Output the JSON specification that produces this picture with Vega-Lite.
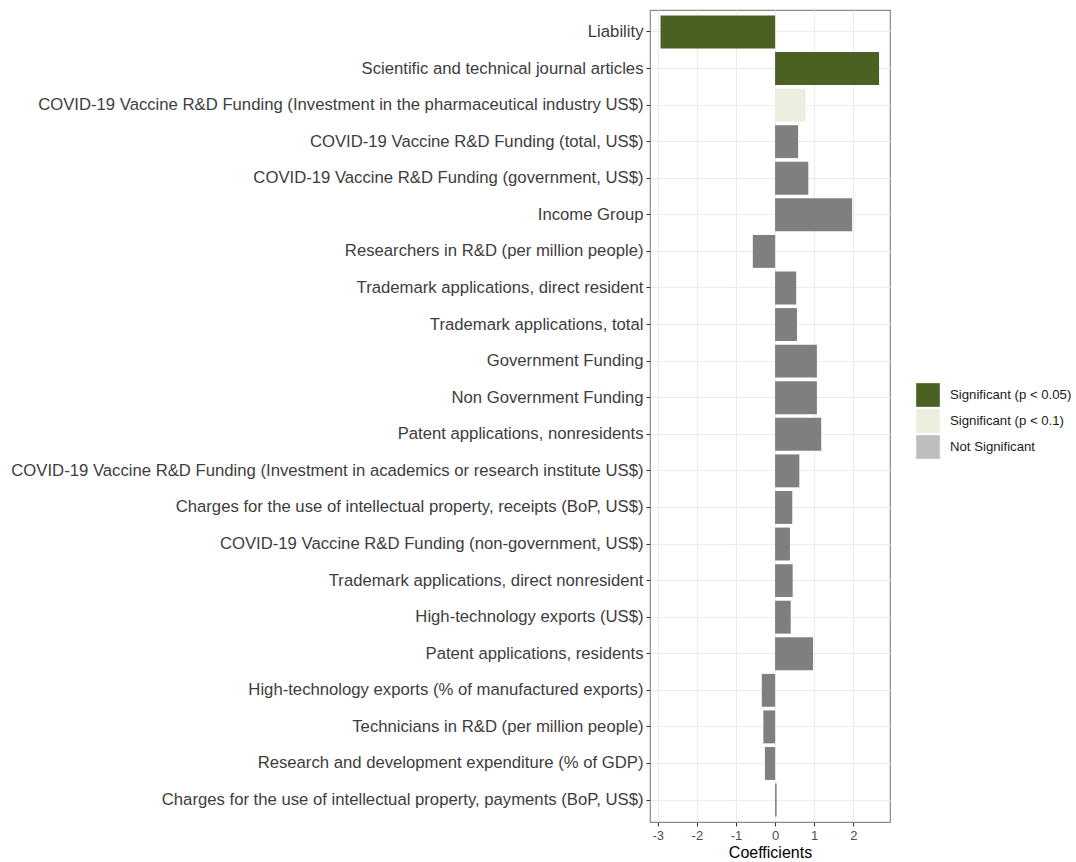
{
  "$schema": "https://vega.github.io/schema/vega-lite/v6.json",
  "width": 240,
  "height": 812,
  "autosize": {"type": "none"},
  "padding": {"left": 650, "top": 10, "right": 186, "bottom": 40},
  "background": "white",
  "config": {
    "font": "Liberation Sans",
    "view": {"stroke": "#8a8a8a", "strokeWidth": 1.2}
  },
  "data": {
    "values": [
      {"term": "Liability", "coef": -2.93, "sig": "Significant (p < 0.05)"},
      {"term": "Scientific and technical journal articles", "coef": 2.66, "sig": "Significant (p < 0.05)"},
      {"term": "COVID-19 Vaccine R&D Funding (Investment in the pharmaceutical industry US$)", "coef": 0.78, "sig": "Significant (p < 0.1)"},
      {"term": "COVID-19 Vaccine R&D Funding (total, US$)", "coef": 0.59, "sig": "Not Significant"},
      {"term": "COVID-19 Vaccine R&D Funding (government, US$)", "coef": 0.85, "sig": "Not Significant"},
      {"term": "Income Group", "coef": 1.97, "sig": "Not Significant"},
      {"term": "Researchers in R&D (per million people)", "coef": -0.57, "sig": "Not Significant"},
      {"term": "Trademark applications, direct resident", "coef": 0.54, "sig": "Not Significant"},
      {"term": "Trademark applications, total", "coef": 0.56, "sig": "Not Significant"},
      {"term": "Government Funding", "coef": 1.07, "sig": "Not Significant"},
      {"term": "Non Government Funding", "coef": 1.07, "sig": "Not Significant"},
      {"term": "Patent applications, nonresidents", "coef": 1.18, "sig": "Not Significant"},
      {"term": "COVID-19 Vaccine R&D Funding (Investment in academics or research institute US$)", "coef": 0.62, "sig": "Not Significant"},
      {"term": "Charges for the use of intellectual property, receipts (BoP, US$)", "coef": 0.44, "sig": "Not Significant"},
      {"term": "COVID-19 Vaccine R&D Funding (non-government, US$)", "coef": 0.38, "sig": "Not Significant"},
      {"term": "Trademark applications, direct nonresident", "coef": 0.45, "sig": "Not Significant"},
      {"term": "High-technology exports (US$)", "coef": 0.40, "sig": "Not Significant"},
      {"term": "Patent applications, residents", "coef": 0.97, "sig": "Not Significant"},
      {"term": "High-technology exports (% of manufactured exports)", "coef": -0.34, "sig": "Not Significant"},
      {"term": "Technicians in R&D (per million people)", "coef": -0.30, "sig": "Not Significant"},
      {"term": "Research and development expenditure (% of GDP)", "coef": -0.26, "sig": "Not Significant"},
      {"term": "Charges for the use of intellectual property, payments (BoP, US$)", "coef": 0.04, "sig": "Not Significant"}
    ]
  },
  "encoding": {
    "y": {
      "field": "term",
      "type": "nominal",
      "sort": null,
      "scale": {"paddingInner": 0.1, "paddingOuter": 0.15},
      "axis": {
        "title": null,
        "bandPosition": 0.5,
        "domain": false,
        "grid": true,
        "gridColor": "#ebebeb",
        "gridWidth": 1.1,
        "tickColor": "#333333",
        "tickSize": 4,
        "labelFontSize": 16.7,
        "labelColor": "#3d3d3d",
        "labelPadding": 3,
        "labelLimit": 700
      }
    }
  },
  "layer": [
    {
      "mark": {"type": "bar"},
      "encoding": {
        "x": {
          "field": "coef",
          "type": "quantitative",
          "scale": {"domain": [-3.2, 2.94], "nice": false, "zero": false},
          "axis": {
            "title": "Coefficients",
            "titleFontSize": 16,
            "titleFontWeight": "normal",
            "titleColor": "#000000",
            "titlePadding": 2,
            "values": [-3, -2.5, -2, -1.5, -1, -0.5, 0, 0.5, 1, 1.5, 2, 2.5],
            "labelExpr": "datum.value % 1 === 0 ? '' + datum.value : ''",
            "tickOpacity": {"condition": {"test": "datum.value % 1 !== 0", "value": 0}, "value": 1},
            "gridWidth": {"condition": {"test": "datum.value % 1 !== 0", "value": 0.6}, "value": 1.1},
            "domain": false,
            "grid": true,
            "gridColor": "#ebebeb",
            "tickColor": "#333333",
            "tickSize": 4,
            "labelFontSize": 13,
            "labelColor": "#4d4d4d",
            "labelPadding": 3
          }
        },
        "x2": {"datum": 0},
        "color": {
          "field": "sig",
          "type": "nominal",
          "scale": {
            "domain": ["Significant (p < 0.05)", "Significant (p < 0.1)", "Not Significant"],
            "range": ["#4b6123", "#eaefdf", "#7f7f7f"]
          },
          "legend": null
        }
      }
    },
    {
      "mark": {"type": "bar"},
      "encoding": {
        "x": {"datum": 0},
        "x2": {"datum": 0},
        "fill": {
          "field": "sig",
          "type": "nominal",
          "scale": {
            "domain": ["Significant (p < 0.05)", "Significant (p < 0.1)", "Not Significant"],
            "range": ["#4b6123", "#eaefdf", "#bebebe"]
          },
          "legend": {
            "title": null,
            "orient": "none",
            "legendX": 266,
            "legendY": 373,
            "symbolType": "square",
            "symbolSize": 560,
            "symbolStrokeWidth": 0,
            "symbolOpacity": 1,
            "rowPadding": 2,
            "labelFontSize": 13.2,
            "labelColor": "#1a1a1a",
            "labelOffset": 10
          }
        }
      }
    }
  ],
  "resolve": {
    "scale": {"color": "independent", "fill": "independent"},
    "legend": {"color": "independent", "fill": "independent"}
  }
}
